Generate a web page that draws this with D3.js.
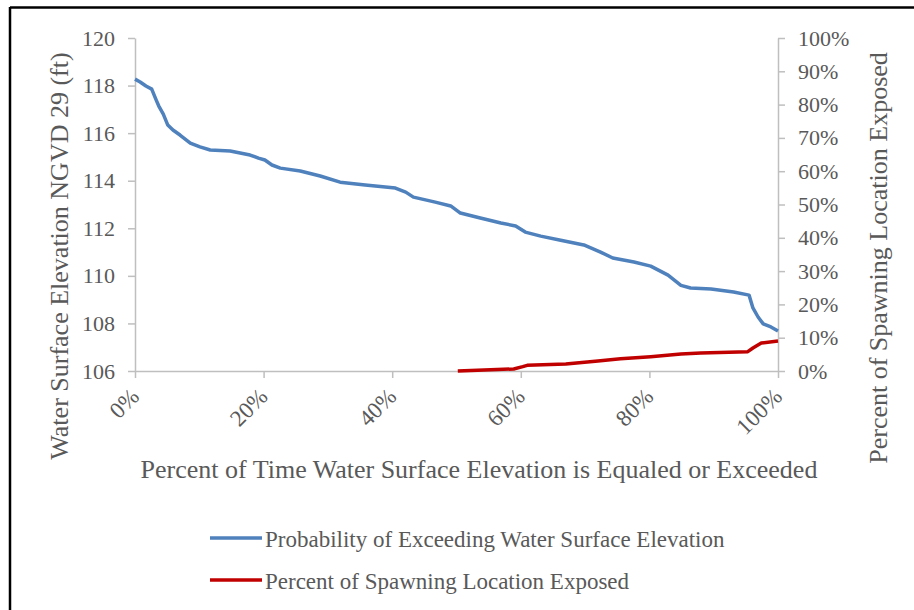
<!DOCTYPE html>
<html>
<head>
<meta charset="utf-8">
<script src="https://cdn.jsdelivr.net/npm/d3@7"></script>
<style>
  body { margin: 0; background: #fff; }
  svg { display: block; font-family: "Liberation Serif", "Times New Roman", serif; }
</style>
</head>
<body>
<svg id="chart" width="914" height="610"></svg>
<script>
// exceedance curve, percent of time vs elevation (ft)
var exceedPct = [0, 0.8, 1.7, 2.6, 3.3, 3.7, 4.4, 5.1, 5.9, 7.0, 8.6, 10.1, 11.7, 14.8, 17.9, 19.2, 20.2, 21.3, 22.6, 25.7,
  28.8, 31.9, 35.8, 40.5, 42.1, 43.3, 46.7, 49.1, 50.6, 53.7, 56.9, 59.2, 60.7, 63.1, 66.2, 69.8, 72.4, 74.3, 77.6, 80.2,
  82.9, 84.9, 86.4, 89.6, 93.1, 95.5, 96.1, 96.9, 97.7, 98.9, 100]
var elevation = [118.27, 118.15, 117.98, 117.85, 117.39, 117.14, 116.8, 116.34, 116.13, 115.92, 115.58, 115.42, 115.29, 115.25, 115.08, 114.95, 114.87, 114.66, 114.53, 114.41,
  114.2, 113.94, 113.82, 113.69, 113.52, 113.31, 113.1, 112.94, 112.64, 112.43, 112.22, 112.1, 111.84, 111.67, 111.5, 111.3, 111.0, 110.75, 110.58, 110.41,
  110.03, 109.6, 109.49, 109.45, 109.32, 109.19, 108.65, 108.27, 107.98, 107.85, 107.68]

// spawning location exposed
var spawnPct = [50.2, 55.3, 58.9, 60.3, 61.0, 67.0, 72.0, 75.5, 80.2, 84.9, 88.0, 95.3, 96.1, 97.4, 100]
var exposedPct = [0, 0.4, 0.6, 1.3, 1.7, 2.1, 3.0, 3.7, 4.3, 5.1, 5.4, 5.8, 6.9, 8.4, 9.0]

var elevTicks = [106, 108, 110, 112, 114, 116, 118, 120]
var pctTicksRight = [0, 10, 20, 30, 40, 50, 60, 70, 80, 90, 100]
var pctTicksBottom = [0, 20, 40, 60, 80, 100]

var legendNames = ["Probability of Exceeding Water Surface Elevation", "Percent of Spawning Location Exposed"]
var colors = ["#4f81bd", "#c00000"]

var svg = d3.select("#chart")
var textColor = "#595959"
var axisColor = "#bfbfbf"

var plotLeft = 135, plotRight = 778, plotTop = 38, plotBottom = 371

var x = d3.scaleLinear().domain([0, 100]).range([plotLeft, plotRight])
var yL = d3.scaleLinear().domain([106, 120]).range([plotBottom, plotTop])
var yR = d3.scaleLinear().domain([0, 100]).range([plotBottom, plotTop])

// outer frame (only top and left edges show in the picture)
svg.append("line").attr("x1", 10).attr("x2", 914).attr("y1", 7.5).attr("y2", 7.5)
  .attr("stroke", "#000").attr("stroke-width", 2.5)
svg.append("line").attr("x1", 10).attr("x2", 10).attr("y1", 7).attr("y2", 610)
  .attr("stroke", "#000").attr("stroke-width", 2.5)

function styleAxis(g) {
  g.select(".domain").attr("stroke", axisColor).attr("stroke-width", 1.5)
  g.selectAll(".tick line").attr("stroke", axisColor).attr("stroke-width", 1.5)
  g.selectAll(".tick text").attr("fill", textColor).attr("font-size", 22)
    .attr("font-family", "Liberation Serif, Times New Roman, serif")
}

var gL = svg.append("g").attr("transform", "translate(" + plotLeft + ",0)")
  .call(d3.axisLeft(yL).tickValues(elevTicks).tickSize(7).tickSizeOuter(0).tickPadding(13))
styleAxis(gL)

var gR = svg.append("g").attr("transform", "translate(" + plotRight + ",0)")
  .call(d3.axisRight(yR).tickValues(pctTicksRight).tickSize(7).tickSizeOuter(0).tickPadding(13)
    .tickFormat(function(d) { return d + "%" }))
styleAxis(gR)

var gB = svg.append("g").attr("transform", "translate(0," + plotBottom + ")")
  .call(d3.axisBottom(x).tickValues(pctTicksBottom).tickSize(7).tickSizeOuter(0)
    .tickFormat(function(d) { return d + "%" }))
styleAxis(gB)
gB.selectAll(".tick text")
  .attr("text-anchor", "end")
  .attr("dy", null)
  .attr("y", 0)
  .attr("font-size", 23)
  .attr("transform", "translate(5,27) rotate(-45)")

// lines
var elevData = exceedPct.map(function(p, i) { return [p, elevation[i]] })
var spawnData = spawnPct.map(function(p, i) { return [p, exposedPct[i]] })

svg.append("path").datum(elevData)
  .attr("fill", "none").attr("stroke", colors[0]).attr("stroke-width", 3.5)
  .attr("stroke-linejoin", "round")
  .attr("d", d3.line().x(function(d) { return x(d[0]) }).y(function(d) { return yL(d[1]) }))

svg.append("path").datum(spawnData)
  .attr("fill", "none").attr("stroke", colors[1]).attr("stroke-width", 3.5)
  .attr("stroke-linejoin", "round")
  .attr("d", d3.line().x(function(d) { return x(d[0]) }).y(function(d) { return yR(d[1]) }))

// titles
svg.append("text").attr("transform", "translate(68,256) rotate(-90)")
  .attr("text-anchor", "middle").attr("fill", textColor).attr("font-size", 26)
  .text("Water Surface Elevation NGVD 29 (ft)")

svg.append("text").attr("transform", "translate(887,258) rotate(-90)")
  .attr("text-anchor", "middle").attr("fill", textColor).attr("font-size", 26)
  .text("Percent of Spawning Location Exposed")

svg.append("text").attr("x", 479).attr("y", 478)
  .attr("text-anchor", "middle").attr("fill", textColor).attr("font-size", 26)
  .text("Percent of Time Water Surface Elevation is Equaled or Exceeded")

// legend
var legend = svg.append("g")
legendNames.forEach(function(name, i) {
  var ly = 538 + i * 42
  legend.append("line").attr("x1", 210).attr("x2", 262).attr("y1", ly).attr("y2", ly)
    .attr("stroke", colors[i]).attr("stroke-width", 3.5)
  legend.append("text").attr("x", 265).attr("y", ly + 9)
    .attr("fill", textColor).attr("font-size", 23)
    .text(name)
})
</script>
</body>
</html>
